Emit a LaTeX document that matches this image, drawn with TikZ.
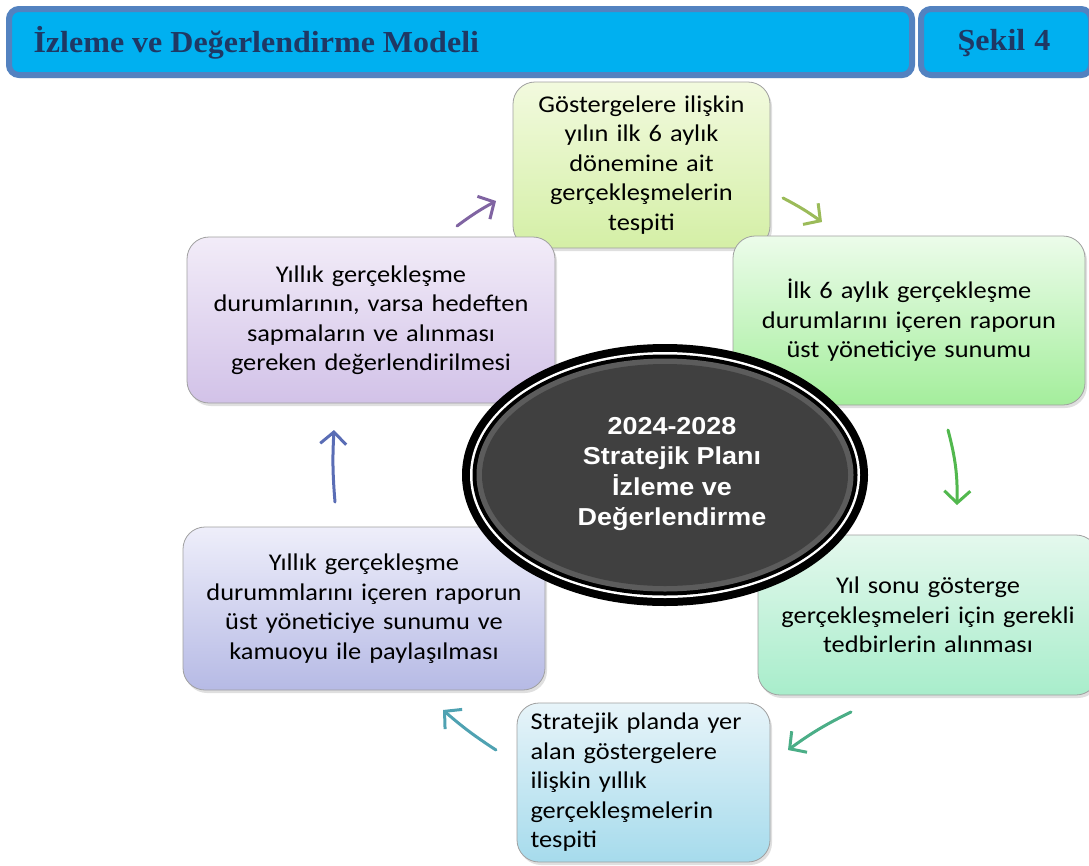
\documentclass[tikz,border=0pt]{standalone}
\usepackage{fontspec}
\setmainfont{Carlito}[FakeStretch=1.1]
\newfontfamily\hdrfont{Liberation Serif}[FakeStretch=1.05]
\newfontfamily\arialf{Liberation Sans}[FakeStretch=1.1]
\usetikzlibrary{arrows.meta,shadows,shapes.geometric}
\definecolor{hdrborder}{HTML}{5382C0}
\definecolor{hdrfill}{HTML}{00B0F0}
\definecolor{hdrtext}{HTML}{1F3864}
\definecolor{boxline}{HTML}{A0A0A0}
\definecolor{ellfill}{HTML}{404040}
\definecolor{ellbevel}{HTML}{5C5C5C}
\definecolor{aPurple}{HTML}{8064A2}
\definecolor{aLime}{HTML}{9BBB59}
\definecolor{aGreen}{HTML}{52B84E}
\definecolor{aSea}{HTML}{4BAE87}
\definecolor{aTeal}{HTML}{4FA2B2}
\definecolor{aBlue}{HTML}{5A6DB5}
\tikzset{
  card/.style={draw=boxline, line width=0.8pt, rounded corners=22pt, inner sep=0pt,
    drop shadow={opacity=0.25, shadow xshift=2pt, shadow yshift=-3pt},
    font=\fontsize{24}{29.5}\selectfont, text=black, align=center},
  cyc/.style={line width=3pt, line cap=round, -{Straight Barb[length=12pt,width=26pt,line width=3pt]}},
  hdrbar/.style={draw=hdrborder, line width=6pt, fill=hdrfill, rounded corners=10pt,
    drop shadow={opacity=0.3, shadow xshift=1pt, shadow yshift=-3pt}}
}
\begin{document}
\begin{tikzpicture}[x=1pt,y=-1pt]
\useasboundingbox (0,0) rectangle (1089,865);
% header
\node[hdrbar, minimum width=903pt, minimum height=66pt, anchor=north west] (hdr) at (6,6) {};
\node[hdrbar, minimum width=170pt, minimum height=66pt, anchor=north west] (hdrR) at (918,6) {};
\node[anchor=west, text=hdrtext, font=\hdrfont\bfseries\fontsize{30.5}{34}\selectfont] (title) at (30,43) {İzleme ve Değerlendirme Modeli};
\node[text=hdrtext, font=\hdrfont\bfseries\fontsize{30.5}{34}\selectfont] (fig) at (1004,43) {Şekil\hspace{9pt}4};
% boxes
\node[card, top color={rgb,255:red,242;green,250;blue,222}, bottom color={rgb,255:red,212;green,239;blue,166},
  minimum width=257pt, minimum height=166pt, text width=250pt] (b1) at (641.5,165) {Göstergelere ilişkin\\yılın ilk 6 aylık\\dönemine ait\\gerçekleşmelerin\\tespiti};
\node[card, top color={rgb,255:red,236;green,252;blue,234}, bottom color={rgb,255:red,164;green,238;blue,156},
  minimum width=352pt, minimum height=169pt, text width=340pt] (b2) at (909,320.5) {İlk 6 aylık gerçekleşme\\durumlarını içeren raporun\\üst yöneticiye sunumu};
\node[card, top color={rgb,255:red,228;green,248;blue,237}, bottom color={rgb,255:red,168;green,237;blue,203},
  minimum width=340pt, minimum height=160pt, text width=330pt] (b3) at (928,615) {Yıl sonu gösterge\\gerçekleşmeleri için gerekli\\tedbirlerin alınması};
\node[card, top color={rgb,255:red,231;green,244;blue,249}, bottom color={rgb,255:red,166;green,219;blue,236},
  minimum width=253pt, minimum height=159pt, text width=226pt, align=left] (b4) at (643.5,782.5) {Stratejik planda yer\\alan göstergelere\\ilişkin yıllık\\gerçekleşmelerin\\tespiti};
\node[card, top color={rgb,255:red,238;green,238;blue,250}, bottom color={rgb,255:red,182;green,186;blue,229},
  minimum width=362pt, minimum height=163pt, text width=350pt] (b5) at (364,608.5) {Yıllık gerçekleşme\\durummlarını içeren raporun\\üst yöneticiye sunumu ve\\kamuoyu ile paylaşılması};
\node[card, top color={rgb,255:red,242;green,236;blue,248}, bottom color={rgb,255:red,210;green,194;blue,232},
  minimum width=368pt, minimum height=166pt, text width=356pt] (b6) at (371,320) {Yıllık gerçekleşme\\durumlarının, varsa hedeften\\sapmaların ve alınması\\gereken değerlendirilmesi};
% central ellipse
\begin{scope}[shift={(665,475)}]
\fill[black] (0,0) ellipse [x radius=203, y radius=131];
\fill[white] (0,0) ellipse [x radius=195, y radius=123];
\fill[black] (0,0) ellipse [x radius=192.5, y radius=120.5];
\fill[ellbevel] (0,0) ellipse [x radius=188.5, y radius=116.5];
\end{scope}
\node[ellipse, fill=ellfill, minimum width=366pt, minimum height=222pt, inner sep=0pt] (core) at (665,475) {};
\node[text=white, align=center, font=\arialf\bfseries\fontsize{24.5}{30.5}\selectfont] (coretxt) at (672,474) {2024-2028\\Stratejik Planı\\İzleme ve\\Değerlendirme};
% arrows
\coordinate (p1s) at (457,226); \coordinate (p1e) at (496,201);
\coordinate (p2s) at (783,198); \coordinate (p2e) at (822,222);
\coordinate (p3s) at (948,430); \coordinate (p3e) at (957,505);
\coordinate (p4s) at (851,712); \coordinate (p4e) at (788,750);
\coordinate (p5s) at (496,750); \coordinate (p5e) at (443,710);
\coordinate (p6s) at (335,502); \coordinate (p6e) at (334,430);
\draw[cyc, draw=aPurple] (p1s) to[bend left=4] (p1e);
\draw[cyc, draw=aLime] (p2s) to[bend left=4] (p2e);
\draw[cyc, draw=aGreen] (p3s) to[bend left=8] (p3e);
\draw[cyc, draw=aSea] (p4s) to[bend right=5] (p4e);
\draw[cyc, draw=aTeal] (p5s) to[bend left=4] (p5e);
\draw[cyc, draw=aBlue] (p6s) to[bend left=4] (p6e);
\end{tikzpicture}
\end{document}
